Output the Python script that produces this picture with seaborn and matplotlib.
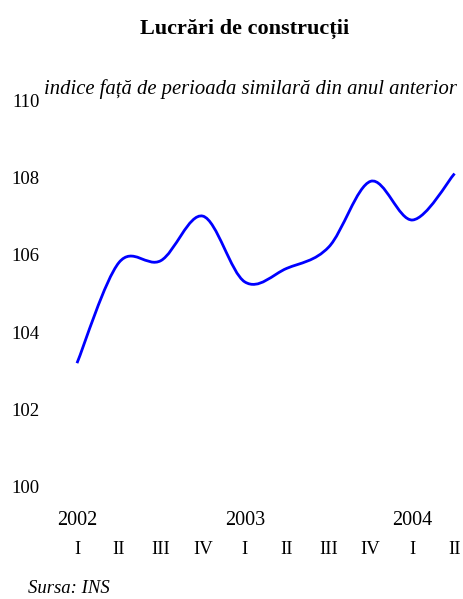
import matplotlib
matplotlib.use("Agg")
import matplotlib.pyplot as plt
import seaborn as sns
from matplotlib.path import Path
from matplotlib.patches import PathPatch

# date
trimestre = ["I", "II", "III", "IV", "I", "II", "III", "IV", "I", "II"]
ani = ["2002", "2003", "2004"]
pozitii_ani = [0, 4, 8]
indice = [103.2, 105.8, 105.85, 107.0, 105.3, 105.65, 106.2, 107.9, 106.9, 108.1]
y_ticks = [100, 102, 104, 106, 108, 110]

sns.set_theme(style="white")
plt.rcParams['font.family'] = ['Liberation Serif', 'DejaVu Serif']
plt.rcParams['text.color'] = 'black'
plt.rcParams['xtick.color'] = 'black'
plt.rcParams['ytick.color'] = 'black'

fig = plt.figure(figsize=(4.64, 5.99), dpi=100)
ax = fig.add_axes([0.1207, 0.187, 0.868, 0.646])

x = list(range(len(indice)))

# linie netezita (stil Excel)
pts = list(zip(x, indice))
verts = [pts[0]]
codes = [Path.MOVETO]
n = len(pts)
for i in range(n - 1):
    p0 = pts[i - 1] if i > 0 else pts[i]
    p1 = pts[i]
    p2 = pts[i + 1]
    p3 = pts[i + 2] if i + 2 < n else pts[i + 1]
    c1 = (p1[0] + (p2[0] - p0[0]) / 6, p1[1] + (p2[1] - p0[1]) / 6)
    c2 = (p2[0] - (p3[0] - p1[0]) / 6, p2[1] - (p3[1] - p1[1]) / 6)
    verts += [c1, c2, p2]
    codes += [Path.CURVE4] * 3
ax.add_patch(PathPatch(Path(verts, codes), facecolor="none", edgecolor="#0000FF",
                       lw=2.0, clip_on=False, capstyle="butt"))

ax.set_xlim(-0.5, 9.1)
ax.set_ylim(100, 110)
ax.set_yticks(y_ticks)
ax.set_yticklabels([str(v) for v in y_ticks], fontsize=13.5)
ax.set_xticks(x)
ax.set_xticklabels(trimestre, fontsize=13.5)
ax.tick_params(axis="y", length=0, pad=12)
ax.tick_params(axis="x", length=0, pad=39)
sns.despine(ax=ax, left=True, bottom=True)

for p, an in zip(pozitii_ani, ani):
    ax.annotate(an, xy=(p, 0), xycoords=("data", "axes fraction"),
                xytext=(0, -34), textcoords="offset pixels",
                ha="center", va="center", fontsize=14.5)

fig.text(0.528, 0.952, "Lucrări de construcții", ha="center", va="center",
         fontsize=16, fontweight="bold")
fig.text(0.54, 0.852, "indice față de perioada similară din anul anterior",
         ha="center", va="center", fontsize=14.9, style="italic")
fig.text(0.06, 0.018, "Sursa: INS", ha="left", va="center",
         fontsize=13.5, style="italic")

fig.savefig("out.png", dpi=100)
